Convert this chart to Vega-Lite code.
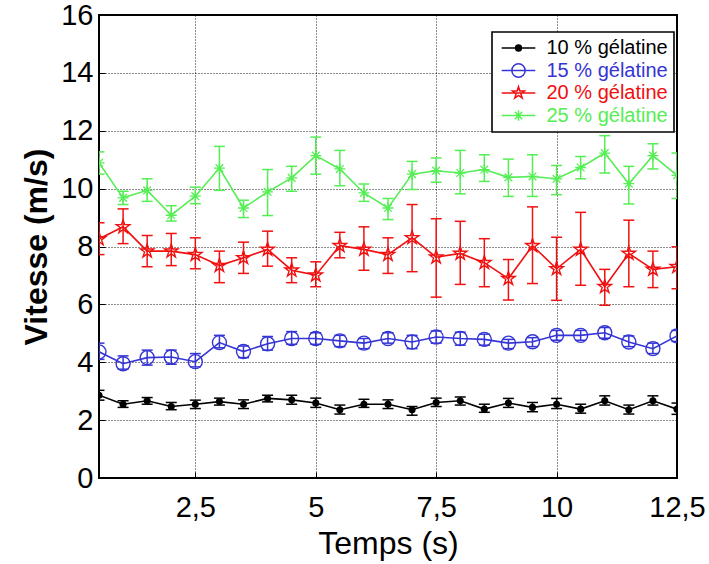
{
  "$schema": "https://vega.github.io/schema/vega-lite/v6.json",
  "width": 578,
  "height": 463,
  "autosize": {"type": "none"},
  "padding": {"left": 99, "top": 15, "right": 32, "bottom": 86},
  "background": "white",
  "config": {
    "view": {"stroke": "black", "strokeWidth": 2},
    "font": "Liberation Sans",
    "axis": {
      "domain": false,
      "grid": true,
      "gridColor": "black",
      "gridDash": [1, 2],
      "gridWidth": 1,
      "gridOpacity": 0.9,
      "ticks": true,
      "tickColor": "black",
      "tickSize": -6,
      "tickWidth": 1,
      "labelFont": "Liberation Sans",
      "labelFontSize": 29,
      "labelColor": "black",
      "titleFont": "Liberation Sans",
      "titleColor": "black",
      "titleFontSize": 32
    },
    "legend": {
      "title": null,
      "orient": "none",
      "legendX": 393,
      "legendY": 17,
      "padding": 6,
      "fillColor": "white",
      "strokeColor": "black",
      "symbolSize": 196,
      "symbolStrokeWidth": 1.5,
      "symbolFillColor": "transparent",
      "symbolOpacity": 1,
      "symbolOffset": 10.5,
      "labelOffset": 18,
      "labelFont": "Liberation Sans",
      "labelFontSize": 20,
      "rowPadding": 2.5
    }
  },
  "data": {
    "values": [
      {"serie": "10 % gélatine", "t": 0.5, "v": 2.86, "hi": 3.03, "lo": 2.69},
      {"serie": "10 % gélatine", "t": 1.0, "v": 2.55, "hi": 2.67, "lo": 2.44},
      {"serie": "10 % gélatine", "t": 1.5, "v": 2.67, "hi": 2.78, "lo": 2.55},
      {"serie": "10 % gélatine", "t": 2.0, "v": 2.47, "hi": 2.61, "lo": 2.36},
      {"serie": "10 % gélatine", "t": 2.5, "v": 2.55, "hi": 2.69, "lo": 2.40},
      {"serie": "10 % gélatine", "t": 3.0, "v": 2.64, "hi": 2.76, "lo": 2.52},
      {"serie": "10 % gélatine", "t": 3.5, "v": 2.55, "hi": 2.70, "lo": 2.40},
      {"serie": "10 % gélatine", "t": 4.0, "v": 2.75, "hi": 2.86, "lo": 2.63},
      {"serie": "10 % gélatine", "t": 4.5, "v": 2.70, "hi": 2.86, "lo": 2.55},
      {"serie": "10 % gélatine", "t": 5.0, "v": 2.59, "hi": 2.76, "lo": 2.44},
      {"serie": "10 % gélatine", "t": 5.5, "v": 2.36, "hi": 2.52, "lo": 2.21},
      {"serie": "10 % gélatine", "t": 6.0, "v": 2.55, "hi": 2.72, "lo": 2.44},
      {"serie": "10 % gélatine", "t": 6.5, "v": 2.55, "hi": 2.70, "lo": 2.40},
      {"serie": "10 % gélatine", "t": 7.0, "v": 2.36, "hi": 2.47, "lo": 2.17},
      {"serie": "10 % gélatine", "t": 7.5, "v": 2.61, "hi": 2.76, "lo": 2.47},
      {"serie": "10 % gélatine", "t": 8.0, "v": 2.67, "hi": 2.80, "lo": 2.52},
      {"serie": "10 % gélatine", "t": 8.5, "v": 2.38, "hi": 2.55, "lo": 2.27},
      {"serie": "10 % gélatine", "t": 9.0, "v": 2.59, "hi": 2.75, "lo": 2.44},
      {"serie": "10 % gélatine", "t": 9.5, "v": 2.44, "hi": 2.61, "lo": 2.29},
      {"serie": "10 % gélatine", "t": 10.0, "v": 2.55, "hi": 2.75, "lo": 2.40},
      {"serie": "10 % gélatine", "t": 10.5, "v": 2.38, "hi": 2.55, "lo": 2.24},
      {"serie": "10 % gélatine", "t": 11.0, "v": 2.67, "hi": 2.84, "lo": 2.52},
      {"serie": "10 % gélatine", "t": 11.5, "v": 2.36, "hi": 2.52, "lo": 2.21},
      {"serie": "10 % gélatine", "t": 12.0, "v": 2.67, "hi": 2.84, "lo": 2.52},
      {"serie": "10 % gélatine", "t": 12.5, "v": 2.38, "hi": 2.59, "lo": 2.20},
      {"serie": "15 % gélatine", "t": 0.5, "v": 4.36, "hi": 4.66, "lo": 4.10},
      {"serie": "15 % gélatine", "t": 1.0, "v": 3.95, "hi": 4.22, "lo": 3.76},
      {"serie": "15 % gélatine", "t": 1.5, "v": 4.16, "hi": 4.42, "lo": 3.90},
      {"serie": "15 % gélatine", "t": 2.0, "v": 4.18, "hi": 4.42, "lo": 3.93},
      {"serie": "15 % gélatine", "t": 2.5, "v": 4.02, "hi": 4.30, "lo": 3.84},
      {"serie": "15 % gélatine", "t": 3.0, "v": 4.68, "hi": 4.93, "lo": 4.50},
      {"serie": "15 % gélatine", "t": 3.5, "v": 4.37, "hi": 4.56, "lo": 4.16},
      {"serie": "15 % gélatine", "t": 4.0, "v": 4.64, "hi": 4.89, "lo": 4.42},
      {"serie": "15 % gélatine", "t": 4.5, "v": 4.82, "hi": 5.06, "lo": 4.62},
      {"serie": "15 % gélatine", "t": 5.0, "v": 4.82, "hi": 5.02, "lo": 4.62},
      {"serie": "15 % gélatine", "t": 5.5, "v": 4.74, "hi": 4.93, "lo": 4.54},
      {"serie": "15 % gélatine", "t": 6.0, "v": 4.66, "hi": 4.82, "lo": 4.47},
      {"serie": "15 % gélatine", "t": 6.5, "v": 4.82, "hi": 5.02, "lo": 4.66},
      {"serie": "15 % gélatine", "t": 7.0, "v": 4.70, "hi": 4.93, "lo": 4.47},
      {"serie": "15 % gélatine", "t": 7.5, "v": 4.87, "hi": 5.08, "lo": 4.66},
      {"serie": "15 % gélatine", "t": 8.0, "v": 4.82, "hi": 5.04, "lo": 4.59},
      {"serie": "15 % gélatine", "t": 8.5, "v": 4.79, "hi": 4.97, "lo": 4.59},
      {"serie": "15 % gélatine", "t": 9.0, "v": 4.66, "hi": 4.79, "lo": 4.47},
      {"serie": "15 % gélatine", "t": 9.5, "v": 4.71, "hi": 4.85, "lo": 4.54},
      {"serie": "15 % gélatine", "t": 10.0, "v": 4.93, "hi": 5.10, "lo": 4.76},
      {"serie": "15 % gélatine", "t": 10.5, "v": 4.93, "hi": 5.10, "lo": 4.76},
      {"serie": "15 % gélatine", "t": 11.0, "v": 5.02, "hi": 5.20, "lo": 4.83},
      {"serie": "15 % gélatine", "t": 11.5, "v": 4.70, "hi": 4.91, "lo": 4.54},
      {"serie": "15 % gélatine", "t": 12.0, "v": 4.47, "hi": 4.66, "lo": 4.30},
      {"serie": "15 % gélatine", "t": 12.5, "v": 4.91, "hi": 5.10, "lo": 4.72},
      {"serie": "20 % gélatine", "t": 0.5, "v": 8.26, "hi": 8.82, "lo": 7.72},
      {"serie": "20 % gélatine", "t": 1.0, "v": 8.68, "hi": 9.30, "lo": 8.10},
      {"serie": "20 % gélatine", "t": 1.5, "v": 7.84, "hi": 8.38, "lo": 7.30},
      {"serie": "20 % gélatine", "t": 2.0, "v": 7.84, "hi": 8.45, "lo": 7.34},
      {"serie": "20 % gélatine", "t": 2.5, "v": 7.72, "hi": 8.30, "lo": 7.23},
      {"serie": "20 % gélatine", "t": 3.0, "v": 7.34, "hi": 7.84, "lo": 6.75},
      {"serie": "20 % gélatine", "t": 3.5, "v": 7.61, "hi": 8.15, "lo": 7.07},
      {"serie": "20 % gélatine", "t": 4.0, "v": 7.90, "hi": 8.53, "lo": 7.32},
      {"serie": "20 % gélatine", "t": 4.5, "v": 7.18, "hi": 7.61, "lo": 6.75},
      {"serie": "20 % gélatine", "t": 5.0, "v": 7.01, "hi": 7.47, "lo": 6.61},
      {"serie": "20 % gélatine", "t": 5.5, "v": 8.03, "hi": 8.49, "lo": 7.61},
      {"serie": "20 % gélatine", "t": 6.0, "v": 7.90, "hi": 8.68, "lo": 7.18},
      {"serie": "20 % gélatine", "t": 6.5, "v": 7.72, "hi": 8.30, "lo": 7.07},
      {"serie": "20 % gélatine", "t": 7.0, "v": 8.30, "hi": 9.45, "lo": 7.13},
      {"serie": "20 % gélatine", "t": 7.5, "v": 7.63, "hi": 8.96, "lo": 6.25},
      {"serie": "20 % gélatine", "t": 8.0, "v": 7.76, "hi": 8.87, "lo": 6.69},
      {"serie": "20 % gélatine", "t": 8.5, "v": 7.44, "hi": 8.27, "lo": 6.61},
      {"serie": "20 % gélatine", "t": 9.0, "v": 6.89, "hi": 7.55, "lo": 6.15},
      {"serie": "20 % gélatine", "t": 9.5, "v": 8.03, "hi": 9.37, "lo": 6.72},
      {"serie": "20 % gélatine", "t": 10.0, "v": 7.23, "hi": 8.32, "lo": 6.14},
      {"serie": "20 % gélatine", "t": 10.5, "v": 7.90, "hi": 9.18, "lo": 6.66},
      {"serie": "20 % gélatine", "t": 11.0, "v": 6.61, "hi": 7.21, "lo": 5.97},
      {"serie": "20 % gélatine", "t": 11.5, "v": 7.76, "hi": 8.91, "lo": 6.61},
      {"serie": "20 % gélatine", "t": 12.0, "v": 7.21, "hi": 7.84, "lo": 6.58},
      {"serie": "20 % gélatine", "t": 12.5, "v": 7.30, "hi": 7.99, "lo": 6.54},
      {"serie": "25 % gélatine", "t": 0.5, "v": 10.89, "hi": 11.27, "lo": 10.50},
      {"serie": "25 % gélatine", "t": 1.0, "v": 9.68, "hi": 9.91, "lo": 9.45},
      {"serie": "25 % gélatine", "t": 1.5, "v": 9.94, "hi": 10.34, "lo": 9.56},
      {"serie": "25 % gélatine", "t": 2.0, "v": 9.08, "hi": 9.41, "lo": 8.88},
      {"serie": "25 % gélatine", "t": 2.5, "v": 9.74, "hi": 10.05, "lo": 9.48},
      {"serie": "25 % gélatine", "t": 3.0, "v": 10.71, "hi": 11.46, "lo": 9.94},
      {"serie": "25 % gélatine", "t": 3.5, "v": 9.33, "hi": 9.60, "lo": 9.00},
      {"serie": "25 % gélatine", "t": 4.0, "v": 9.89, "hi": 10.66, "lo": 9.07},
      {"serie": "25 % gélatine", "t": 4.5, "v": 10.37, "hi": 10.77, "lo": 9.91},
      {"serie": "25 % gélatine", "t": 5.0, "v": 11.14, "hi": 11.78, "lo": 10.50},
      {"serie": "25 % gélatine", "t": 5.5, "v": 10.68, "hi": 11.32, "lo": 10.10},
      {"serie": "25 % gélatine", "t": 6.0, "v": 9.85, "hi": 10.16, "lo": 9.56},
      {"serie": "25 % gélatine", "t": 6.5, "v": 9.33, "hi": 9.66, "lo": 8.93},
      {"serie": "25 % gélatine", "t": 7.0, "v": 10.50, "hi": 10.94, "lo": 9.97},
      {"serie": "25 % gélatine", "t": 7.5, "v": 10.62, "hi": 11.06, "lo": 10.22},
      {"serie": "25 % gélatine", "t": 8.0, "v": 10.54, "hi": 11.32, "lo": 9.82},
      {"serie": "25 % gélatine", "t": 8.5, "v": 10.66, "hi": 11.17, "lo": 10.25},
      {"serie": "25 % gélatine", "t": 9.0, "v": 10.39, "hi": 11.02, "lo": 9.73},
      {"serie": "25 % gélatine", "t": 9.5, "v": 10.42, "hi": 11.17, "lo": 9.73},
      {"serie": "25 % gélatine", "t": 10.0, "v": 10.34, "hi": 10.80, "lo": 9.79},
      {"serie": "25 % gélatine", "t": 10.5, "v": 10.73, "hi": 11.11, "lo": 10.34},
      {"serie": "25 % gélatine", "t": 11.0, "v": 11.23, "hi": 11.83, "lo": 10.54},
      {"serie": "25 % gélatine", "t": 11.5, "v": 10.17, "hi": 10.77, "lo": 9.47},
      {"serie": "25 % gélatine", "t": 12.0, "v": 11.14, "hi": 11.55, "lo": 10.68},
      {"serie": "25 % gélatine", "t": 12.5, "v": 10.46, "hi": 11.23, "lo": 9.66}
    ]
  },
  "encoding": {
    "x": {
      "field": "t",
      "type": "quantitative",
      "scale": {"domain": [0.5, 12.5], "nice": false, "zero": false},
      "axis": {
        "title": "Temps (s)",
        "titleFontWeight": "normal",
        "values": [2.5, 5, 7.5, 10, 12.5],
        "labelExpr": "replace(format(datum.value, '~g'), '.', ',')",
        "labelPadding": 21,
        "titlePadding": 6,
        "labelFlush": false,
        "labelOverlap": false
      }
    },
    "y": {
      "field": "v",
      "type": "quantitative",
      "scale": {"domain": [0, 16], "nice": false, "zero": false},
      "axis": {
        "title": "Vitesse (m/s)",
        "titleFontWeight": "bold",
        "values": [0, 2, 4, 6, 8, 10, 12, 14, 16],
        "labelPadding": 12,
        "titlePadding": 7,
        "labelFlush": false,
        "labelOverlap": false
      }
    },
    "color": {
      "field": "serie",
      "type": "nominal",
      "scale": {
        "domain": ["10 % gélatine", "15 % gélatine", "20 % gélatine", "25 % gélatine"],
        "range": ["#000000", "#3535d5", "#f01010", "#55ee55"]
      },
      "legend": {
        "symbolFillColor": "transparent",
        "encode": {
          "legend": {"update": {"strokeWidth": {"value": 1.6}}},
          "labels": {"update": {"fill": {"scale": "color", "field": "value"}}},
          "symbols": {"update": {
            "stroke": {"scale": "color", "field": "value"},
            "opacity": {"value": 1}
          }}
        }
      }
    }
  },
  "layer": [
    {
      "mark": {"type": "line", "strokeWidth": 1.6, "clip": true},
      "encoding": {"detail": {"field": "serie"}}
    },
    {
      "mark": {"type": "rule", "strokeWidth": 1.5, "clip": true},
      "encoding": {
        "y": {"field": "lo", "type": "quantitative"},
        "y2": {"field": "hi"}
      }
    },
    {
      "mark": {"type": "rule", "strokeWidth": 1.5, "xOffset": -5.5, "x2Offset": 5.5, "clip": true},
      "encoding": {
        "x2": {"field": "t"},
        "y": {"field": "lo", "type": "quantitative"}
      }
    },
    {
      "mark": {"type": "rule", "strokeWidth": 1.5, "xOffset": -5.5, "x2Offset": 5.5, "clip": true},
      "encoding": {
        "x2": {"field": "t"},
        "y": {"field": "hi", "type": "quantitative"}
      }
    },
    {
      "transform": [{"filter": "datum.serie === '10 % gélatine'"}],
      "mark": {"type": "point", "shape": "circle", "filled": true, "size": 50, "opacity": 1, "clip": true},
      "encoding": {"color": {"value": "#000000"}}
    },
    {
      "transform": [{"filter": "datum.serie === '15 % gélatine'"}],
      "mark": {"type": "point", "shape": "circle", "filled": false, "size": 196, "strokeWidth": 1.4, "opacity": 1, "clip": true}
    },
    {
      "transform": [{"filter": "datum.serie === '20 % gélatine'"}],
      "mark": {"type": "point", "shape": "M0,-1L0.225,-0.309L0.951,-0.309L0.363,0.118L0.588,0.809L0,0.382L-0.588,0.809L-0.363,0.118L-0.951,-0.309L-0.225,-0.309Z", "filled": false, "size": 200, "strokeWidth": 1.4, "opacity": 1, "clip": true}
    },
    {
      "transform": [{"filter": "datum.serie === '25 % gélatine'"}],
      "mark": {"type": "point", "shape": "M0,-1V1M-1,0H1M-0.7,-0.7L0.7,0.7M-0.7,0.7L0.7,-0.7", "filled": false, "size": 121, "strokeWidth": 1.3, "opacity": 1, "clip": true}
    },
    {
      "mark": {"type": "point", "filled": false, "opacity": 0, "size": 196, "strokeWidth": 1.5},
      "encoding": {
        "shape": {
          "field": "serie",
          "type": "nominal",
          "scale": {
            "domain": ["10 % gélatine", "15 % gélatine", "20 % gélatine", "25 % gélatine"],
            "range": [
              "M-2.4,0H2.4M0.42,0A0.42,0.42 0 1,1 -0.42,0A0.42,0.42 0 1,1 0.42,0ZM0.22,0A0.22,0.22 0 1,1 -0.22,0A0.22,0.22 0 1,1 0.22,0ZM0.06,0A0.06,0.06 0 1,1 -0.06,0A0.06,0.06 0 1,1 0.06,0Z",
              "M-2.4,0H2.4M0.95,0A0.95,0.95 0 1,1 -0.95,0A0.95,0.95 0 1,1 0.95,0Z",
              "M-2.4,0H2.4M0,-0.9L0.2,-0.28L0.86,-0.28L0.33,0.11L0.53,0.73L0,0.34L-0.53,0.73L-0.33,0.11L-0.86,-0.28L-0.2,-0.28Z",
              "M-2.4,0H2.4M0,-0.75V0.75M-0.53,-0.53L0.53,0.53M-0.53,0.53L0.53,-0.53"
            ]
          },
          "legend": {
            "symbolFillColor": "transparent",
            "encode": {
              "legend": {"update": {"strokeWidth": {"value": 1.6}}},
              "labels": {"update": {"fill": {"scale": "color", "field": "value"}}},
              "symbols": {"update": {
                "stroke": {"scale": "color", "field": "value"},
                "opacity": {"value": 1}
              }}
            }
          }
        }
      }
    }
  ]
}
